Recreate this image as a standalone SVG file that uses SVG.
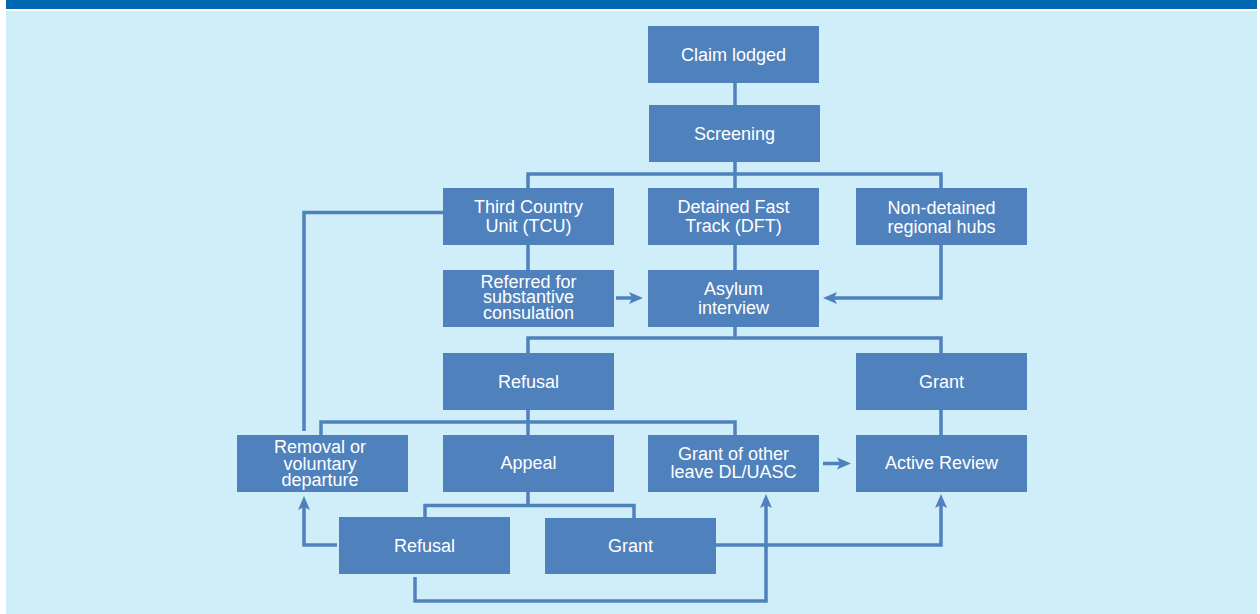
<svg xmlns="http://www.w3.org/2000/svg" width="1260" height="614" viewBox="0 0 1260 614">
<style>
.box{fill:#4f81bd}
.lbl{fill:#ffffff;font-family:"Liberation Sans",Arial,Helvetica,sans-serif;font-size:18px;text-anchor:middle}
.ln{fill:none;stroke:#4f81bd;stroke-width:3.5;stroke-linejoin:miter;stroke-linecap:butt}
.ar{marker-end:url(#ah)}
</style>
<defs>
<marker id="ah" markerUnits="userSpaceOnUse" viewBox="0 -7 15 14" refX="6" refY="0" markerWidth="15" markerHeight="14" orient="auto">
<path d="M0,-6 L14,0 L0,6 L3,0 Z" fill="#4f81bd"/>
</marker>
</defs>
<rect x="0" y="0" width="1260" height="614" fill="#ffffff"/>
<rect x="6" y="0" width="1251" height="9" fill="#0068b3"/>
<rect x="6" y="11" width="1251" height="603" fill="#d0edfa"/>

<g id="connectors">
<path class="ln" d="M735,83 V105"/>
<path class="ln" d="M735,162 V188"/>
<path class="ln" d="M528,188 V174 H941 V188"/>
<path class="ln" d="M528,245 V270"/>
<path class="ln" d="M735,245 V270"/>
<path class="ln" d="M443,212.5 H304 V431"/>
<path class="ln ar" d="M616,298 H635"/>
<path class="ln ar" d="M941,245 V298 H831"/>
<path class="ln" d="M735,327 V338"/>
<path class="ln" d="M528,353 V338 H941 V353"/>
<path class="ln" d="M528,410 V435"/>
<path class="ln" d="M321,435 V422 H735 V435"/>
<path class="ln" d="M941,410 V435"/>
<path class="ln" d="M528,492 V505.5"/>
<path class="ln" d="M425,517 V505.5 H634 V518"/>
<path class="ln ar" d="M337,545 H304 V504"/>
<path class="ln ar" d="M415,577 V601 H766 V502"/>
<path class="ln ar" d="M716,545 H941 V502"/>
<path class="ln ar" d="M823,463.5 H843"/>
</g>

<g id="claim-lodged"><rect class="box" x="648" y="26" width="171" height="57"/><text class="lbl" x="733.5" y="61">Claim lodged</text></g>
<g id="screening"><rect class="box" x="649" y="105" width="171" height="57"/><text class="lbl" x="734.5" y="140">Screening</text></g>
<g id="tcu"><rect class="box" x="443" y="188" width="171" height="57"/><text class="lbl" x="528.5" y="213">Third Country</text><text class="lbl" x="528.5" y="232">Unit (TCU)</text></g>
<g id="dft"><rect class="box" x="648" y="188" width="171" height="57"/><text class="lbl" x="733.5" y="213">Detained Fast</text><text class="lbl" x="733.5" y="232">Track (DFT)</text></g>
<g id="hubs"><rect class="box" x="856" y="188" width="171" height="57"/><text class="lbl" x="941.5" y="214">Non-detained</text><text class="lbl" x="941.5" y="232.5">regional hubs</text></g>
<g id="referred"><rect class="box" x="443" y="270" width="171" height="57"/><text class="lbl" x="528.5" y="287.5">Referred for</text><text class="lbl" x="528.5" y="303">substantive</text><text class="lbl" x="528.5" y="319">consulation</text></g>
<g id="asylum-interview"><rect class="box" x="648" y="270" width="171" height="57"/><text class="lbl" x="733.5" y="295">Asylum</text><text class="lbl" x="733.5" y="313.5">interview</text></g>
<g id="refusal"><rect class="box" x="443" y="353" width="171" height="57"/><text class="lbl" x="528.5" y="388">Refusal</text></g>
<g id="grant"><rect class="box" x="856" y="353" width="171" height="57"/><text class="lbl" x="941.5" y="388">Grant</text></g>
<g id="removal"><rect class="box" x="237" y="435" width="171" height="57"/><text class="lbl" x="320" y="452.5">Removal or</text><text class="lbl" x="320" y="469.5">voluntary</text><text class="lbl" x="320" y="485.5">departure</text></g>
<g id="appeal"><rect class="box" x="443" y="435" width="171" height="57"/><text class="lbl" x="528.5" y="469">Appeal</text></g>
<g id="grant-other"><rect class="box" x="648" y="435" width="171" height="57"/><text class="lbl" x="733.5" y="460">Grant of other</text><text class="lbl" x="733.5" y="477.5">leave DL/UASC</text></g>
<g id="active-review"><rect class="box" x="856" y="435" width="171" height="57"/><text class="lbl" x="941.5" y="469">Active Review</text></g>
<g id="appeal-refusal"><rect class="box" x="339" y="517" width="171" height="57"/><text class="lbl" x="424.5" y="552">Refusal</text></g>
<g id="appeal-grant"><rect class="box" x="545" y="518" width="171" height="56"/><text class="lbl" x="630.5" y="552">Grant</text></g>
</svg>
